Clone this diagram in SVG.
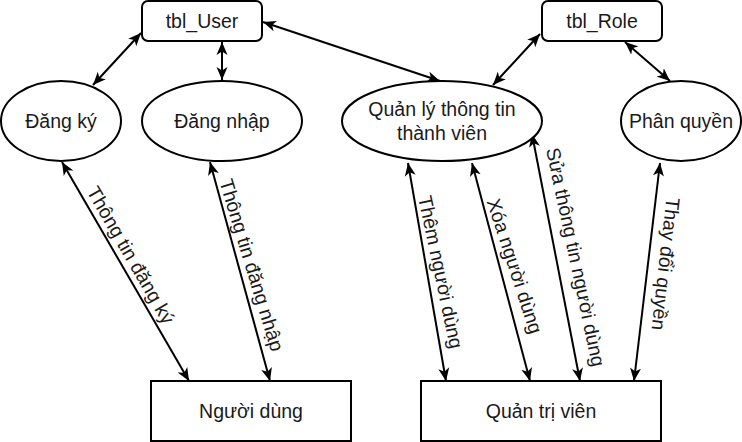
<svg xmlns="http://www.w3.org/2000/svg" width="742" height="442" viewBox="0 0 742 442">
<style>
.n{fill:#fff;stroke:#000;stroke-width:2}
.t{font-family:"Liberation Sans",Arial,sans-serif;font-size:19.5px;fill:#1a1a1a;text-anchor:middle;dominant-baseline:central}
.e{stroke:#000;stroke-width:2;fill:none;marker-start:url(#a);marker-end:url(#a)}
</style>
<defs>
<marker id="a" markerUnits="userSpaceOnUse" markerWidth="14" markerHeight="12" viewBox="0 0 14 12" refX="13" refY="6" orient="auto-start-reverse">
<path d="M0,0.5 L13,6 L0,11.5 L3.5,6 Z" fill="#000"/>
</marker>
</defs>
<rect width="742" height="442" fill="#fff"/>
<g id="connectors">
<line class="e" x1="93" y1="85" x2="141" y2="33"/>
<line class="e" x1="222" y1="42" x2="222" y2="80"/>
<line class="e" x1="263" y1="22" x2="440" y2="81"/>
<line class="e" x1="493" y1="85" x2="540" y2="34"/>
<line class="e" x1="625" y1="42" x2="670" y2="81"/>
<line class="e" x1="62" y1="162" x2="189" y2="381"/>
<line class="e" x1="210" y1="162" x2="270" y2="381"/>
<line class="e" x1="408" y1="163" x2="446" y2="381"/>
<line class="e" x1="472" y1="163" x2="530" y2="381"/>
<line class="e" x1="532" y1="134" x2="580" y2="381"/>
<line class="e" x1="660" y1="163" x2="634" y2="381"/>
<text class="t" transform="translate(131,255) rotate(60)">Thông tin đăng ký</text>
<text class="t" transform="translate(252,265) rotate(73)">Thông tin đăng nhập</text>
<text class="t" transform="translate(441,272) rotate(78)">Thêm người dùng</text>
<text class="t" transform="translate(515,266) rotate(72)">Xóa người dùng</text>
<text class="t" transform="translate(576,257) rotate(78)">Sửa thông tin người dùng</text>
<text class="t" transform="translate(666,264) rotate(96.5)">Thay đổi quyền</text>
</g>
<g id="tbl_User"><rect class="n" x="142" y="1" width="120" height="40" rx="6"/><text class="t" x="202" y="21">tbl_User</text></g>
<g id="tbl_Role"><rect class="n" x="542" y="1" width="120" height="40" rx="6"/><text class="t" x="602" y="21">tbl_Role</text></g>
<g id="dangky"><ellipse class="n" cx="61" cy="121" rx="60" ry="40"/><text class="t" x="61" y="121">Đăng ký</text></g>
<g id="dangnhap"><ellipse class="n" cx="222" cy="121" rx="80" ry="40"/><text class="t" x="222" y="121">Đăng nhập</text></g>
<g id="quanly"><ellipse class="n" cx="442" cy="121" rx="100" ry="40"/><text class="t" x="442" y="109">Quản lý thông tin</text><text class="t" x="442" y="133">thành viên</text></g>
<g id="phanquyen"><ellipse class="n" cx="681" cy="121" rx="60" ry="40"/><text class="t" x="681" y="121">Phân quyền</text></g>
<g id="nguoidung"><rect class="n" x="151" y="381" width="200" height="60"/><text class="t" x="251" y="411">Người dùng</text></g>
<g id="quantrivien"><rect class="n" x="421" y="381" width="240" height="60"/><text class="t" x="541" y="411">Quản trị viên</text></g>
</svg>
